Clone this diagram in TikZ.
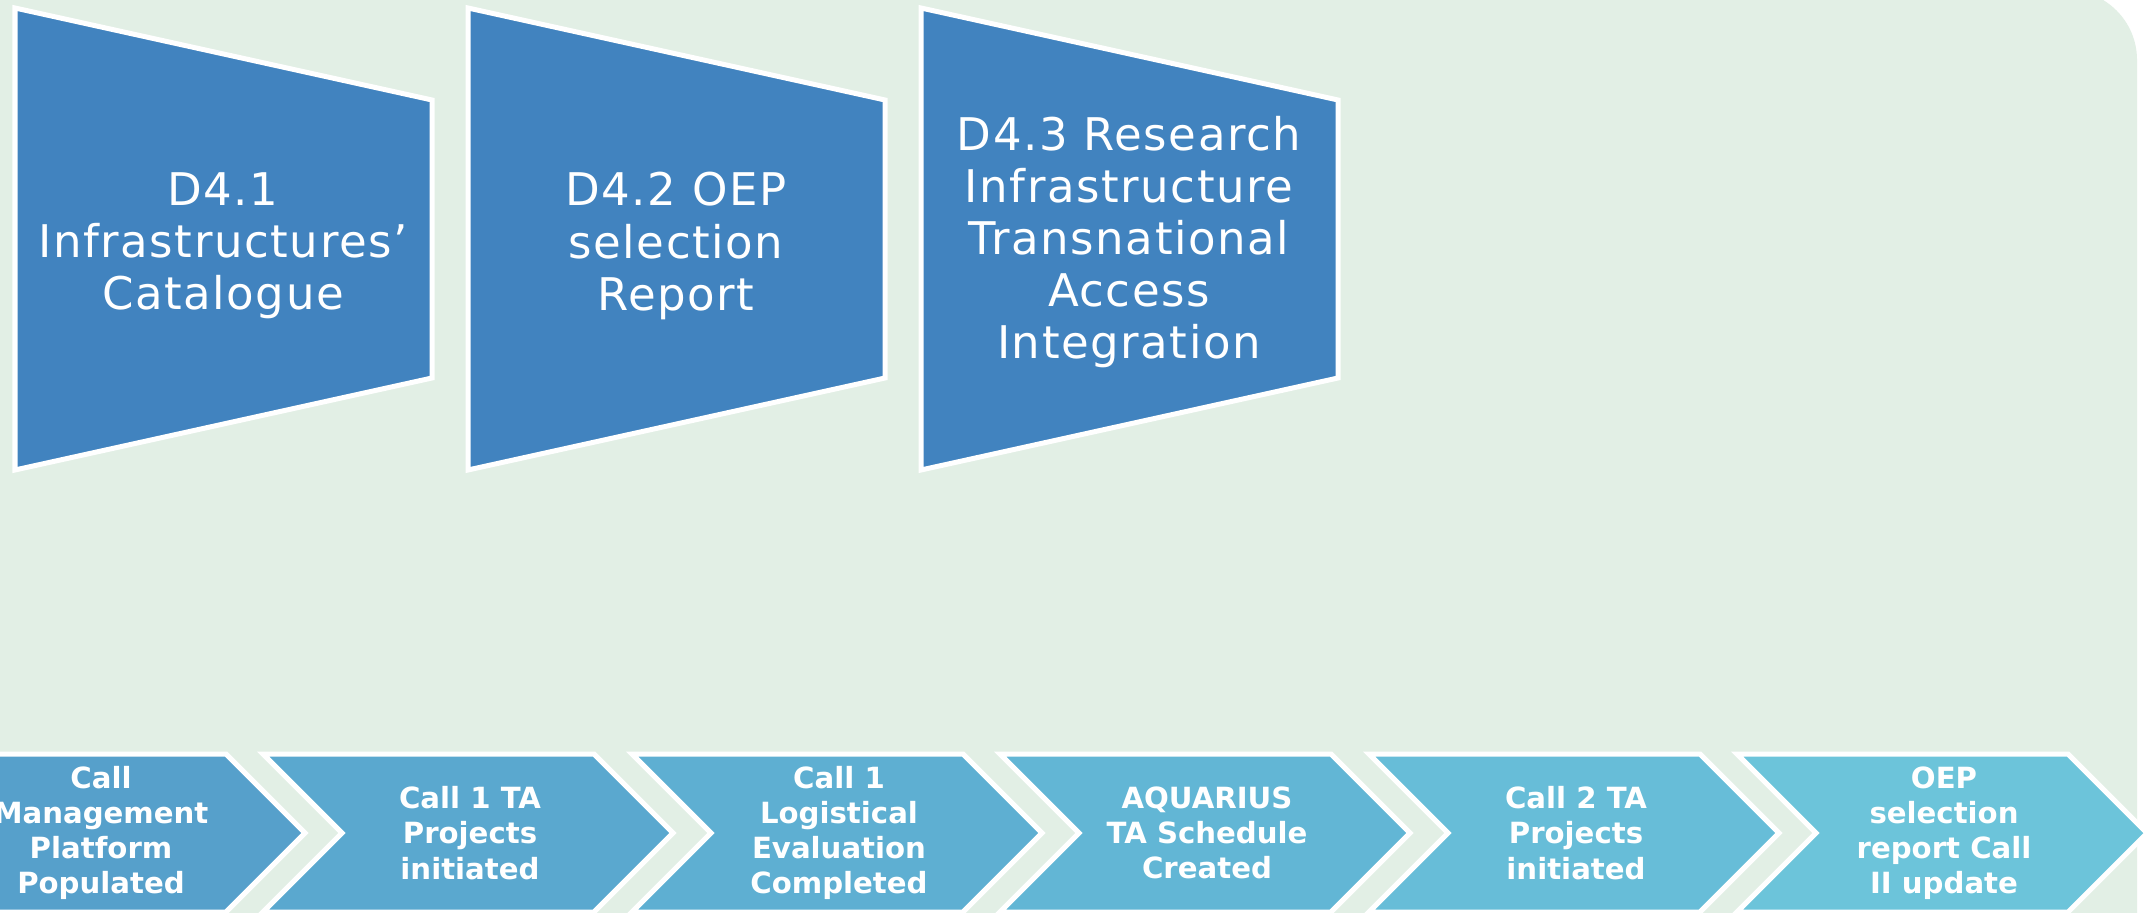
\documentclass[tikz,border=0pt]{standalone}
\usepackage{fontspec}
\setmainfont{DejaVu Sans}
\usepackage{xcolor}
\usepackage{tikz}
\definecolor{bggreen}{RGB}{226,239,229}
\definecolor{delblue}{RGB}{65,131,191}
\definecolor{chevA}{RGB}{86,160,203}
\definecolor{chevB}{RGB}{90,168,207}
\definecolor{chevC}{RGB}{94,175,210}
\definecolor{chevD}{RGB}{98,182,213}
\definecolor{chevE}{RGB}{103,189,216}
\definecolor{chevF}{RGB}{108,196,218}
\tikzset{
  deliv/.style={fill=delblue, draw=white, line width=0.05cm, line join=miter},
  delivtext/.style={text=white, align=center, font=\fontsize{12.8}{14.8}\selectfont\addfontfeatures{LetterSpace=3.5}},
  chev/.style={draw=white, line width=0.05cm, line join=miter},
  chevtext/.style={text=white, align=center, font=\fontsize{8.3}{10}\selectfont\bfseries}
}

\begin{document}
\begin{tikzpicture}[x=0.01cm, y=-0.01cm]
\useasboundingbox (0,0) rectangle (2149,913);
\clip (0,0) rectangle (2149,913);
\fill[white] (0,0) rectangle (2149,913);
\fill[bggreen, rounded corners=0.7cm] (-100,-10) rectangle (2137,1000);
\filldraw[deliv] (15,8) -- (432,100) -- (432,378) -- (15,470) -- cycle;
\node[delivtext] (d41) at (223,246) {D4.1\\Infrastructures’\\Catalogue};
\filldraw[deliv] (468,8) -- (885,100) -- (885,378) -- (468,470) -- cycle;
\node[delivtext] (d42) at (676,246) {D4.2 OEP\\selection\\Report};
\filldraw[deliv] (921,8) -- (1338,100) -- (1338,378) -- (921,470) -- cycle;
\node[delivtext] (d43) at (1129,242) {D4.3 Research\\Infrastructure\\Transnational\\Access\\Integration};
\filldraw[chev, fill=chevA] (-105,754) -- ++(331,0) -- ++(79,79) -- ++(-79,79) -- ++(-331,0) -- ++(79,-79) -- cycle;
\node[chevtext] (c1) at (101,833) {Call\\Management\\Platform\\Populated};
\filldraw[chev, fill=chevB] (263,754) -- ++(331,0) -- ++(79,79) -- ++(-79,79) -- ++(-331,0) -- ++(79,-79) -- cycle;
\node[chevtext] (c2) at (470,833) {Call 1 TA\\Projects\\initiated};
\filldraw[chev, fill=chevC] (632,754) -- ++(331,0) -- ++(79,79) -- ++(-79,79) -- ++(-331,0) -- ++(79,-79) -- cycle;
\node[chevtext] (c3) at (839,833) {Call 1\\Logistical\\Evaluation\\Completed};
\filldraw[chev, fill=chevD] (1000,754) -- ++(331,0) -- ++(79,79) -- ++(-79,79) -- ++(-331,0) -- ++(79,-79) -- cycle;
\node[chevtext] (c4) at (1207,833) {AQUARIUS\\TA Schedule\\Created};
\filldraw[chev, fill=chevE] (1369,754) -- ++(331,0) -- ++(79,79) -- ++(-79,79) -- ++(-331,0) -- ++(79,-79) -- cycle;
\node[chevtext] (c5) at (1576,833) {Call 2 TA\\Projects\\initiated};
\filldraw[chev, fill=chevF] (1737,754) -- ++(331,0) -- ++(79,79) -- ++(-79,79) -- ++(-331,0) -- ++(79,-79) -- cycle;
\node[chevtext] (c6) at (1944,833) {OEP\\selection\\report Call\\II update};
\end{tikzpicture}
\end{document}
